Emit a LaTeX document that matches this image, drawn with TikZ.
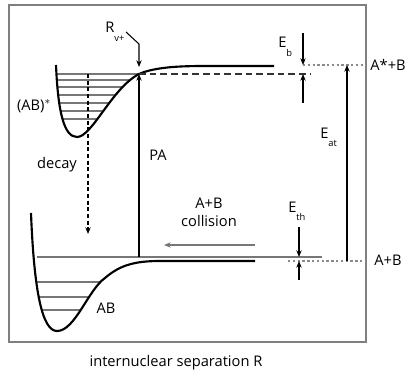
\documentclass[tikz,border=0pt]{standalone}
\usepackage{fontspec}
\setmainfont{Open Sans}
\usetikzlibrary{arrows.meta}
\definecolor{frameGray}{HTML}{7F7F7F}
\definecolor{levelGray}{HTML}{777777}
\definecolor{limitGray}{HTML}{8A8A8A}

\begin{document}
\begin{tikzpicture}[x=0.75pt,y=-0.75pt,
  font=\fontsize{11}{13}\selectfont,
  curve/.style={black,line width=1.6pt},
  level/.style={levelGray,line width=0.8pt},
  limit/.style={limitGray,line width=0.8pt,dash pattern=on 1.8pt off 1.8pt},
  marker/.style={black,line width=0.8pt,-{Stealth[length=5pt,width=4pt]}},
  sublabel/.style={inner sep=0pt,anchor=base west}]
\newcommand{\lowsub}[2]{#1\raisebox{-6.5pt}{\scriptsize #2}}
\useasboundingbox (0,0) rectangle (409,374);
\draw[frameGray,line width=0.8pt] (9,5) rectangle (366,342);
% vibrational levels, clipped to the wells
\begin{scope}
  \clip (56,65) .. controls (58,112) and (64,137) .. (77,137)
        .. controls (92,137) and (112,88) .. (139,74) -- (139,60) -- (56,60) -- cycle;
  \foreach \y in {74,80,87,95,103,111,119}
    \draw[level] (40,\y) -- (150,\y);
\end{scope}
\begin{scope}
  \clip (31,213) .. controls (34,290) and (42,331) .. (57,331)
        .. controls (75,331) and (88,290) .. (105,278)
        .. controls (120,265) and (135,261) .. (160,261) -- (160,200) -- (31,200) -- cycle;
  \foreach \y in {282,297,310}
    \draw[level] (20,\y) -- (170,\y);
\end{scope}
% potential curves
\draw[curve] (56,65) .. controls (58,112) and (64,137) .. (77,137)
  .. controls (92,137) and (112,88) .. (139,74)
  .. controls (155,67) and (180,66) .. (205,66) -- (274,66);
\draw[curve] (31,213) .. controls (34,290) and (42,331) .. (57,331)
  .. controls (75,331) and (88,290) .. (105,278)
  .. controls (120,265) and (135,261) .. (160,261) -- (255,261);
% levels and limits
\coordinate (th-left) at (37,257);
\coordinate (th-right) at (322,257);
\draw[level] (th-left) -- (th-right);
\coordinate (rv) at (139,74);
\coordinate (bind-end) at (310,74);
\draw[black!80,line width=0.9pt,dash pattern=on 5pt off 3pt] (rv) -- (bind-end);
\coordinate (upper-lim) at (303,65);
\coordinate (upper-frame) at (366,65);
\draw[limit] (upper-lim) -- (upper-frame);
\coordinate (lower-lim) at (288,261);
\coordinate (lower-frame) at (366,261);
\draw[limit] (lower-lim) -- (lower-frame);
% transitions
\coordinate (pa-bot) at (139,257);
\draw[marker,line width=1pt] (pa-bot) -- (rv);
\coordinate (decay-top) at (88,74);
\coordinate (decay-bot) at (88,234);
\draw[marker,line width=1.1pt,densely dashed] (decay-top) -- (decay-bot);
\coordinate (coll-start) at (255,245);
\coordinate (coll-end) at (164,245);
\draw[marker,levelGray,line width=1pt] (coll-start) -- (coll-end);
\coordinate (rv-tail) at (126,32);
\coordinate (rv-bend) at (139,44);
\coordinate (rv-tip) at (139,67);
\draw[marker] (rv-tail) -- (rv-bend) -- (rv-tip);
% energy markers
\coordinate (eb-top) at (303,33);
\coordinate (eb-bot) at (303,103);
\draw[marker] (eb-top) -- (upper-lim);
\draw[marker] (eb-bot) -- (303,74);
\coordinate (eat-bot) at (347,261);
\coordinate (eat-top) at (347,65);
\draw[marker] (eat-bot) -- (eat-top);
\coordinate (eth-top) at (299,227);
\coordinate (eth-bot) at (299,280);
\draw[marker] (eth-top) -- (299,257);
\draw[marker] (eth-bot) -- (299,261);
% labels
\node[sublabel] (rvlab) at (105,33) {\lowsub{R}{v+}};
\node[sublabel] (eblab) at (278,48) {\lowsub{E}{b}};
\node[sublabel] (eatlab) at (320,138) {\lowsub{E}{at}};
\node[sublabel] (ethlab) at (288,212) {\lowsub{E}{th}};
\node (abstar) at (34,106) {(AB)$^{*}$};
\node (decay) at (57,165) {decay};
\node (pa) at (158,155) {PA};
\node (collision) at (209,214) {\begin{tabular}{@{}c@{}}A+B\\[1pt]collision\end{tabular}};
\node (ab) at (106,308) {AB};
\node (upper-state) at (388,65) {A*+B};
\node (lower-state) at (388,260) {A+B};
\node (axis) at (176,363) {internuclear separation R};
\end{tikzpicture}
\end{document}
